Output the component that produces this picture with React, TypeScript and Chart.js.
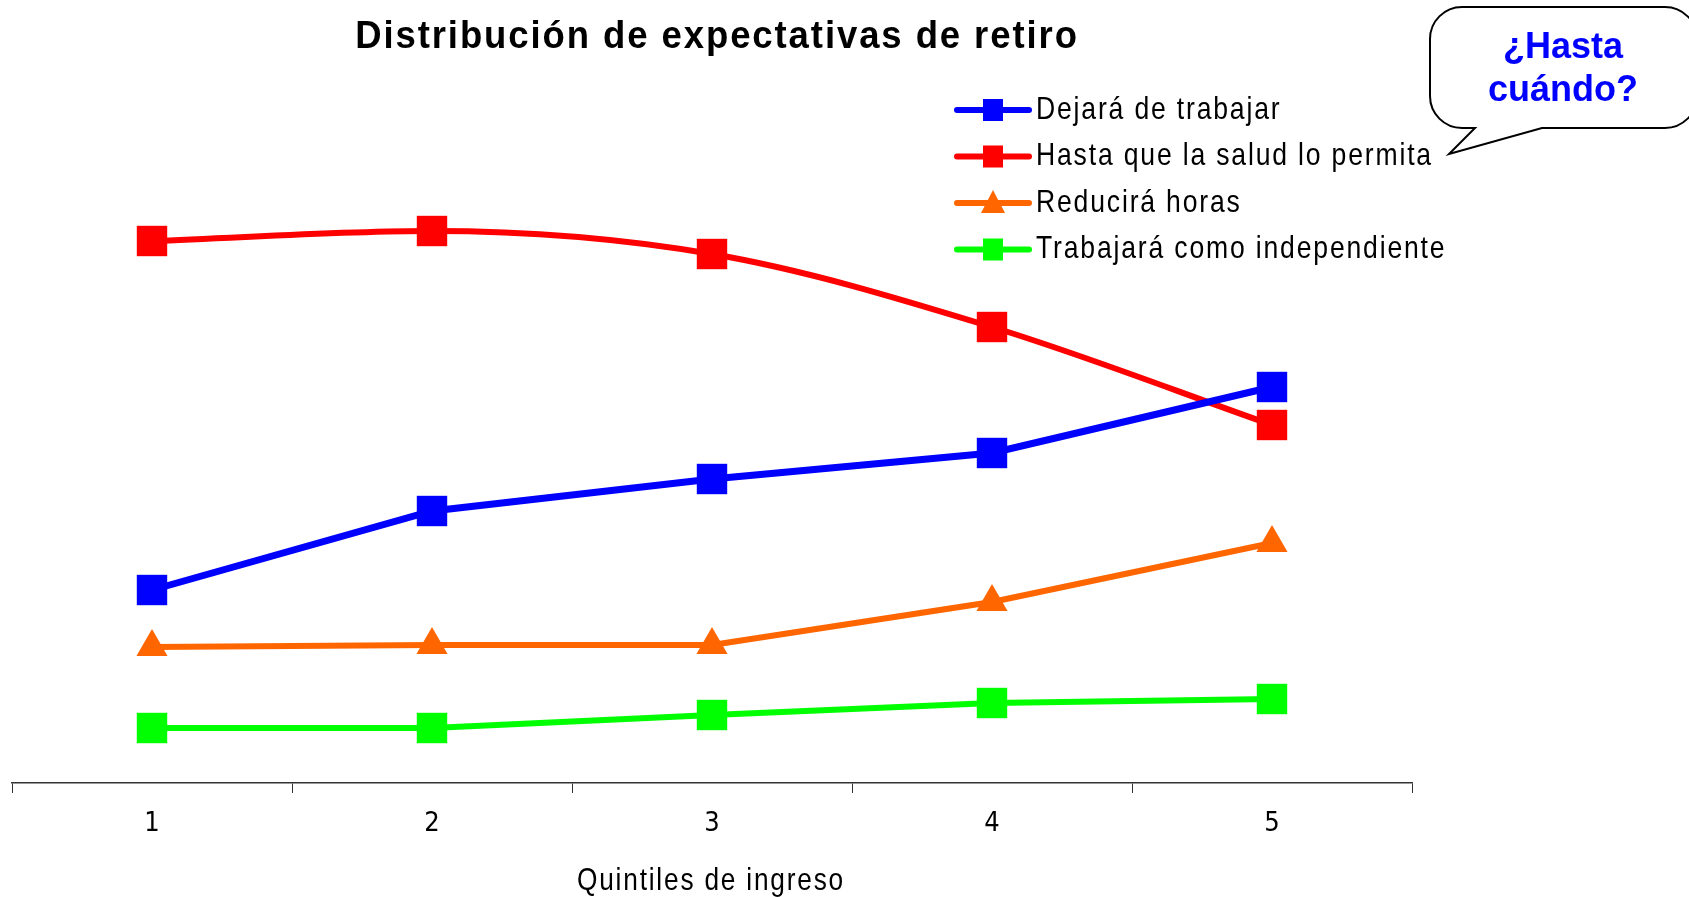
import React, { useEffect, useRef } from "react";
import { Chart, registerables } from "chart.js";

Chart.register(...registerables);

const categories = ["1", "2", "3", "4", "5"];
const seriesLabels = [
  "Dejará de trabajar",
  "Hasta que la salud lo permita",
  "Reducirá horas",
  "Trabajará como independiente",
];
const dejaraValues = [19.3, 27.2, 30.4, 33.0, 39.6];
const saludValues = [54.2, 55.2, 52.9, 45.6, 35.8];
const reduciraValues = [13.6, 13.8, 13.8, 18.1, 24.0];
const independienteValues = [5.5, 5.5, 6.8, 8.0, 8.4];
const titleText = "Distribución de expectativas de retiro";
const axisTitle = "Quintiles de ingreso";
const calloutLines = ["¿Hasta", "cuándo?"];

const SANS = "'Liberation Sans', Arial, sans-serif";
const COND = "'DejaVu Sans Condensed', 'Liberation Sans', sans-serif";

function narrowText(ctx: CanvasRenderingContext2D, text: string, x: number, y: number, font: string, sx: number, spacing: number, align: "left" | "center") {
  ctx.save();
  ctx.font = font;
  (ctx as any).letterSpacing = `${spacing}px`;
  ctx.textAlign = "left";
  ctx.textBaseline = "middle";
  const w = ctx.measureText(text).width * sx;
  const startX = align === "center" ? x - w / 2 : x;
  ctx.translate(startX, y);
  ctx.scale(sx, 1);
  ctx.fillText(text, 0, 0);
  ctx.restore();
}

const overlayPlugin = {
  id: "overlay",
  afterDraw(chart: any) {
    const ctx = chart.ctx as CanvasRenderingContext2D;
    ctx.save();
    ctx.fillStyle = "#000";
    // Title
    narrowText(ctx, titleText, 717, 38, `bold 38px ${SANS}`, 0.96, 2, "center");

    // Legend
    const lx0 = 957, lx1 = 1029, ly0 = 110, lstep = 46.5;
    chart.data.datasets.forEach((ds: any, i: number) => {
      const y = ly0 + i * lstep;
      ctx.strokeStyle = ds.borderColor;
      ctx.lineWidth = 6;
      ctx.lineCap = "round";
      ctx.beginPath();
      ctx.moveTo(lx0, y);
      ctx.lineTo(lx1, y);
      ctx.stroke();
      ctx.fillStyle = ds.backgroundColor;
      const cx = (lx0 + lx1) / 2;
      if (ds.pointStyle === "triangle") {
        ctx.beginPath();
        ctx.moveTo(cx, y - 13);
        ctx.lineTo(cx + 12, y + 10);
        ctx.lineTo(cx - 12, y + 10);
        ctx.closePath();
        ctx.fill();
      } else {
        ctx.fillRect(cx - 10, y - 11, 20, 22);
      }
      ctx.fillStyle = "#000";
      narrowText(ctx, ds.label, 1036, y, `32px ${SANS}`, 0.83, 2.2, "left");
    });

    // X axis title
    ctx.fillStyle = "#000";
    narrowText(ctx, axisTitle, 711, 881, `32px ${SANS}`, 0.82, 2.2, "center");

    // Callout
    const x0 = 1430, y0 = 7, x1 = 1697, y1 = 128, r = 32;
    ctx.beginPath();
    ctx.moveTo(x0 + r, y0);
    ctx.lineTo(x1 - r, y0);
    ctx.arcTo(x1, y0, x1, y0 + r, r);
    ctx.lineTo(x1, y1 - r);
    ctx.arcTo(x1, y1, x1 - r, y1, r);
    ctx.lineTo(1542, y1);
    ctx.lineTo(1449, 154);
    ctx.lineTo(1475, y1);
    ctx.lineTo(x0 + r, y1);
    ctx.arcTo(x0, y1, x0, y1 - r, r);
    ctx.lineTo(x0, y0 + r);
    ctx.arcTo(x0, y0, x0 + r, y0, r);
    ctx.closePath();
    ctx.fillStyle = "#fff";
    ctx.fill();
    ctx.strokeStyle = "#000";
    ctx.lineWidth = 2;
    ctx.lineCap = "butt";
    ctx.stroke();
    ctx.fillStyle = "#0000FF";
    ctx.font = `bold 36px ${SANS}`;
    ctx.textAlign = "center";
    ctx.textBaseline = "middle";
    ctx.fillText(calloutLines[0], 1563, 48);
    ctx.fillText(calloutLines[1], 1563, 91);
    ctx.restore();
  },
};

export default function App() {
  const ref = useRef<HTMLCanvasElement | null>(null);
  useEffect(() => {
    if (!ref.current) return;
    const mk = (label: string, data: number[], color: string, style: string, radius: number, width: number, smooth = false) => ({
      label,
      data,
      borderColor: color,
      backgroundColor: color,
      pointBackgroundColor: color,
      pointBorderColor: color,
      pointStyle: style,
      pointRadius: radius,
      pointHoverRadius: radius,
      pointBorderWidth: 0,
      borderWidth: width,
      clip: false,
      tension: smooth ? 0.4 : 0,
      cubicInterpolationMode: smooth ? "monotone" : "default",
    });
    const chart = new Chart(ref.current, {
      type: "line",
      data: {
        labels: categories,
        datasets: [
          mk(seriesLabels[0], dejaraValues, "#0000FF", "rect", 21.5, 7),
          mk(seriesLabels[1], saludValues, "#FF0000", "rect", 21.5, 6, true),
          mk(seriesLabels[2], reduciraValues, "#FF6600", "triangle", 18, 6),
          mk(seriesLabels[3], independienteValues, "#00FF00", "rect", 21.5, 6),
        ] as any,
      },
      options: {
        responsive: false,
        animation: false,
        devicePixelRatio: 1,
        layout: { autoPadding: false, padding: { left: 12, right: 277, top: 83, bottom: 0 } },
        plugins: { legend: { display: false }, title: { display: false }, tooltip: { enabled: false } },
        scales: {
          y: { display: false, min: 0, max: 70 },
          x: {
            offset: true,
            afterFit: (s: any) => { s.height = 114; s.paddingLeft = 0; s.paddingRight = 0; },
            grid: { offset: true, drawOnChartArea: false, drawTicks: true, tickLength: 10, color: "#333", lineWidth: 1 },
            border: { display: true, color: "#333", width: 1.5 },
            ticks: { color: "#000", padding: 15, font: { family: COND, size: 27 } },
            title: { display: false },
          },
        },
      } as any,
      plugins: [overlayPlugin],
    });
    return () => chart.destroy();
  }, []);
  return (
    <div style={{ position: "absolute", left: 0, top: 0, width: 1689, height: 897, background: "#fff" }}>
      <canvas ref={ref} width={1689} height={897} style={{ display: "block" }} />
    </div>
  );
}
